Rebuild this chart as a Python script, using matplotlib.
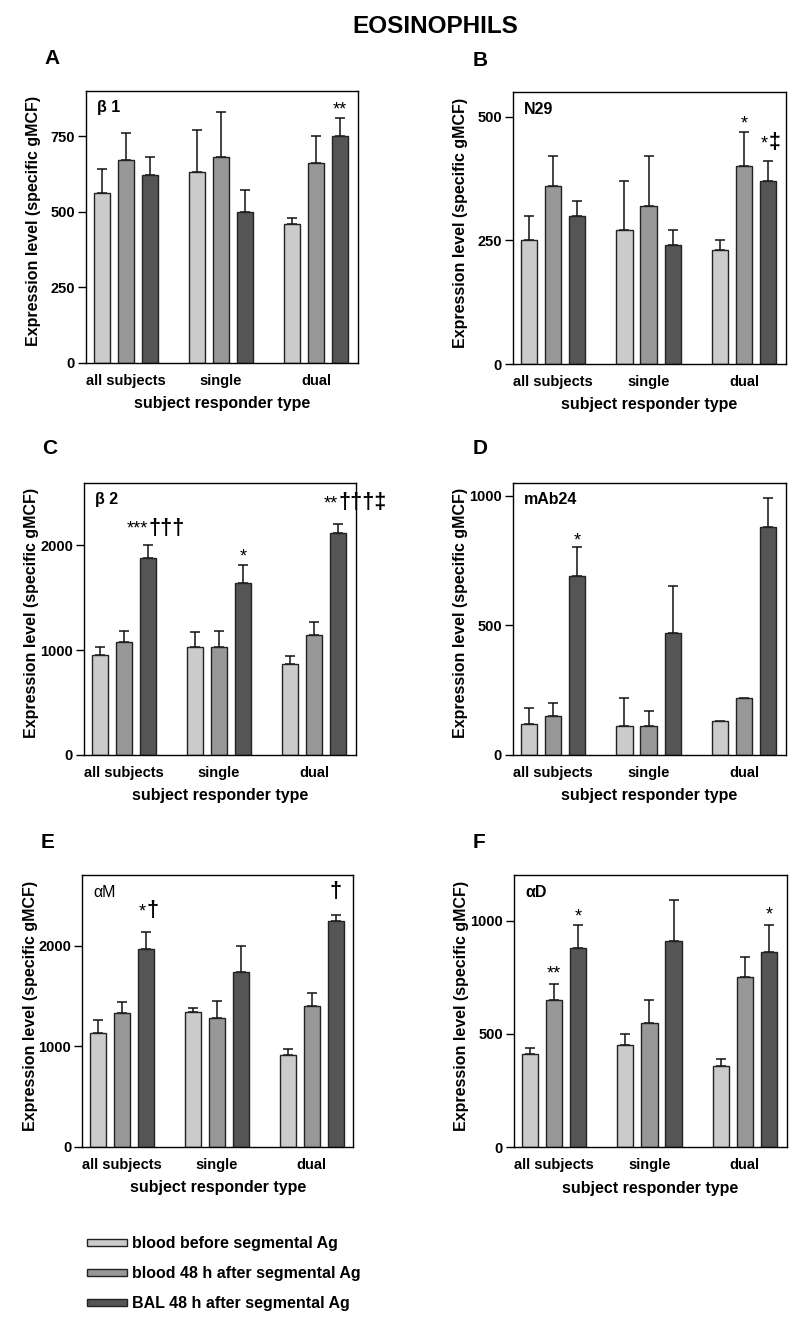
import numpy as np
import matplotlib.pyplot as plt

plt.rcParams['font.family'] = ['Liberation Sans', 'DejaVu Sans']

groups = ['all subjects', 'single', 'dual']
series_labels = ['blood before segmental Ag', 'blood 48 h after segmental Ag',
                 'BAL 48 h after segmental Ag']
series_colors = ['#cbcbcb', '#989898', '#555555']

# rows = series (blood before, blood 48 h, BAL 48 h), columns = groups
b1_mean = [[560, 630, 460], [670, 680, 660], [620, 500, 750]]
b1_sem = [[80, 140, 20], [90, 150, 90], [60, 70, 60]]

n29_mean = [[250, 270, 230], [360, 320, 400], [300, 240, 370]]
n29_sem = [[50, 100, 20], [60, 100, 70], [30, 30, 40]]

b2_mean = [[950, 1030, 870], [1080, 1030, 1140], [1880, 1640, 2120]]
b2_sem = [[80, 140, 70], [100, 150, 130], [120, 170, 90]]

mab24_mean = [[120, 110, 130], [150, 110, 220], [690, 470, 880]]
mab24_sem = [[60, 110, np.nan], [50, 60, np.nan], [110, 180, 110]]

am_mean = [[1130, 1340, 910], [1330, 1280, 1400], [1970, 1740, 2250]]
am_sem = [[130, 40, 60], [110, 170, 130], [170, 260, 60]]

ad_mean = [[410, 450, 360], [650, 550, 750], [880, 910, 860]]
ad_sem = [[30, 50, 30], [70, 100, 90], [100, 180, 120]]

# significance marks: (panel, group, series, stars, crosses, baseline y)
marks = [
    ('A', 2, 2, '**', '', 820),
    ('B', 2, 1, '*', '', 476),
    ('B', 2, 2, '*', '‡', 436),
    ('C', 0, 2, '***', '†††', 2110),
    ('C', 1, 2, '*', '', 1845),
    ('C', 2, 2, '**', '†††‡', 2355),
    ('D', 0, 2, '*', '', 808),
    ('E', 0, 2, '*', '†', 2295),
    ('E', 2, 2, '', '†', 2480),
    ('F', 0, 1, '**', '', 745),
    ('F', 0, 2, '*', '', 998),
    ('F', 2, 2, '*', '', 1005),
]

W, H = 800, 1323
fig = plt.figure(figsize=(W / 100, H / 100), dpi=100)

def px_rect(x0, ybot, w, h):
    return [x0 / W, 1 - ybot / H, w / W, h / H]

panels = [
    ('A', 'β 1', 'bold', b1_mean, b1_sem, 900, [0, 250, 500, 750],
     px_rect(86, 362.7, 272, 272), (52, 59)),
    ('B', 'N29', 'bold', n29_mean, n29_sem, 550, [0, 250, 500],
     px_rect(513, 364, 273, 272), (480, 60)),
    ('C', 'β 2', 'bold', b2_mean, b2_sem, 2600, [0, 1000, 2000],
     px_rect(84, 754.7, 272, 272), (50, 449)),
    ('D', 'mAb24', 'bold', mab24_mean, mab24_sem, 1050, [0, 500, 1000],
     px_rect(513, 754.7, 273, 272), (480, 449)),
    ('E', 'αM', 'normal', am_mean, am_sem, 2700, [0, 1000, 2000],
     px_rect(82.3, 1146.7, 271, 271.4), (48, 843)),
    ('F', 'αD', 'bold', ad_mean, ad_sem, 1200, [0, 500, 1000],
     px_rect(514, 1147.3, 272.7, 272), (479, 843)),
]

x = np.arange(len(groups))
offsets = [-0.253, 0, 0.253]
bar_w = 0.17
axes = {}
handles = []

for key, name, weight, mean, sem, ytop, ticks, rect, letter_xy in panels:
    ax = fig.add_axes(rect)
    axes[key] = ax
    hs = []
    for i in range(3):
        m = np.array(mean[i], dtype=float)
        e = np.array(sem[i], dtype=float)
        b = ax.bar(x + offsets[i], m, bar_w, color=series_colors[i],
                   edgecolor='#222222', linewidth=1.0, zorder=2,
                   label=series_labels[i])
        hs.append(b)
        ax.errorbar(x + offsets[i], m, yerr=[np.zeros_like(e), e], fmt='none',
                    ecolor='#111111', elinewidth=1.1, capsize=3.3,
                    capthick=1.1, zorder=1)
    if not handles:
        handles = hs
    ax.set_xlim(-0.42, 2.44)
    ax.set_ylim(0, ytop)
    ax.set_yticks(ticks)
    ax.set_xticks(x)
    ax.set_xticklabels(groups, fontsize=10.5, fontweight='bold')
    for lab in ax.get_yticklabels():
        lab.set_fontweight('bold')
        lab.set_fontsize(10.5)
    ax.tick_params(axis='x', length=0, pad=8)
    ax.tick_params(axis='y', direction='out', length=5.5, width=1, pad=2.5)
    for sp in ax.spines.values():
        sp.set_linewidth(1.0)
    ax.set_xlabel('subject responder type', fontsize=11.5, fontweight='bold',
                  labelpad=6)
    ax.set_ylabel('Expression level (specific gMCF)', fontsize=11.5,
                  fontweight='bold')
    ax.yaxis.set_label_coords(-0.165, 0.52)
    ax.text(0.04, 0.937, name, transform=ax.transAxes, fontsize=11.5,
            fontweight=weight, va='center', ha='left')
    fig.text(letter_xy[0] / W, 1 - letter_xy[1] / H, key, fontsize=15,
             fontweight='bold', ha='center', va='center')

for key, g, s, stars, crosses, yb in marks:
    ax = axes[key]
    xc = x[g] + offsets[s]
    if stars:
        ax.text(xc, yb, stars, ha='right' if crosses else 'center',
                va='baseline', fontsize=13, zorder=3)
    if crosses:
        ax.text(xc, yb, crosses, ha='left' if stars else 'center',
                va='baseline', fontsize=15.5, fontweight='bold', zorder=3)

fig.text(435 / W, 1 - 26.5 / H, 'EOSINOPHILS', fontsize=17.5,
         fontweight='bold', ha='center', va='center')

fig.legend(handles, series_labels, loc='upper left',
           bbox_to_anchor=(87 / W, 1 - 1236 / H), frameon=False,
           prop={'size': 11.5, 'weight': 'bold'}, handlelength=2.5,
           handleheight=0.3, handletextpad=0.3, labelspacing=0.95,
           borderpad=0, borderaxespad=0)

fig.savefig('out.png', dpi=100)
